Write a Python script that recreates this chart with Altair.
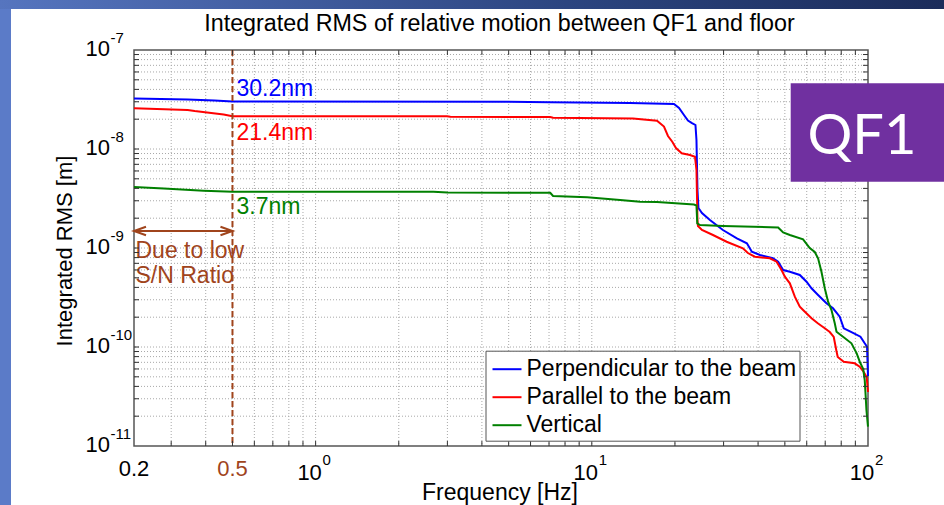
import altair as alt
import pandas as pd

# Integrated RMS of the QF1-to-floor relative motion (cumulated from 100 Hz downwards).
# Frequencies in Hz, integrated RMS in metres.
perp_freq = [0.22, 0.344, 0.43, 0.5, 4.86, 7.07, 13.76, 19.84, 20.69, 21.56, 22.29, 23.05,
             23.73, 23.93, 24.13, 24.33, 25.05, 26.77, 29.83, 33.52, 36.43, 37.97, 40.6, 45.24,
             47.28, 49.29, 52.12, 56.63, 59.9, 62.44, 65.95, 70.72, 74.7, 79.0, 81.7, 86.4,
             93.9, 97.3, 99.2, 100]
perp_rms = [3.24e-8, 3.16e-8, 3.09e-8, 3.02e-8, 3.00e-8, 2.97e-8, 2.92e-8, 2.85e-8, 2.595e-8,
            2.205e-8, 1.94e-8, 1.83e-8, 1.748e-8, 1.233e-8, 3.855e-9, 2.535e-9, 2.257e-9,
            1.917e-9, 1.52e-9, 1.253e-9, 1.115e-9, 9.18e-10, 8.50e-10, 7.87e-10, 7.27e-10,
            5.99e-10, 5.76e-10, 5.34e-10, 4.57e-10, 3.915e-10, 3.35e-10, 2.763e-10, 2.46e-10,
            2.023e-10, 1.545e-10, 1.427e-10, 1.27e-10, 1.09e-10, 1.007e-10, 5.10e-11]

para_freq = [0.22, 0.344, 0.365, 0.4645, 0.5, 2.99, 3.075, 7.07, 7.24, 14.1, 17.22, 18.25,
             18.87, 19.56, 20.17, 21.16, 22.67, 23.63, 23.93, 24.13, 24.23, 25.05, 27.46, 30.77,
             35.24, 36.74, 38.94, 44.12, 46.66, 48.64, 50.0, 52.12, 54.33, 56.63, 58.2, 62.44,
             65.79, 69.74, 72.7, 75.16, 76.74, 77.7, 81.7, 89.5, 93.3, 96.5, 98.9, 100]
para_rms = [2.58e-8, 2.48e-8, 2.42e-8, 2.23e-8, 2.14e-8, 2.14e-8, 2.115e-8, 2.105e-8, 2.066e-8,
            2.033e-8, 1.932e-8, 1.688e-8, 1.353e-8, 1.185e-8, 1.023e-8, 9.05e-9, 8.70e-9,
            8.36e-9, 6.135e-9, 1.917e-9, 1.668e-9, 1.52e-9, 1.353e-9, 1.157e-9, 9.93e-10,
            8.90e-10, 8.17e-10, 7.87e-10, 7.27e-10, 5.99e-10, 5.13e-10, 4.40e-10, 3.22e-10,
            2.554e-10, 2.364e-10, 1.95e-10, 1.735e-10, 1.545e-10, 1.417e-10, 1.262e-10,
            9.33e-11, 7.93e-11, 7.10e-11, 6.84e-11, 6.32e-11, 5.59e-11, 4.98e-11, 3.51e-11]

vert_freq = [0.22, 0.282, 0.393, 0.5, 2.67, 3.0, 7.07, 7.24, 9.62, 12.66, 14.95, 17.22, 23.43,
             23.93, 24.09, 24.64, 29.83, 47.28, 49.29, 52.12, 58.2, 61.53, 64.15, 65.95, 67.84,
             69.74, 71.69, 73.75, 75.8, 76.9, 81.2, 87.1, 91.0, 93.6, 96.1, 97.3, 98.1, 98.7, 100]
vert_rms = [4.13e-9, 3.99e-9, 3.79e-9, 3.70e-9, 3.70e-9, 3.64e-9, 3.61e-9, 3.35e-9, 3.25e-9,
            3.05e-9, 2.935e-9, 2.915e-9, 2.75e-9, 2.687e-9, 1.776e-9, 1.708e-9, 1.668e-9,
            1.611e-9, 1.434e-9, 1.353e-9, 1.224e-9, 1.0e-9, 9.11e-10, 7.87e-10, 5.76e-10,
            3.915e-10, 2.87e-10, 2.364e-10, 1.735e-10, 1.427e-10, 1.27e-10, 1.09e-10, 8.64e-11,
            6.97e-11, 5.99e-11, 4.64e-11, 3.15e-11, 2.31e-11, 1.57e-11]

series_names = ["Perpendicular to the beam", "Parallel to the beam", "Vertical"]
series_colors = ["#0000FF", "#FF0000", "#008000"]

# Total RMS above the 0.5 Hz cut-off (m)
cutoff_freq = 0.5
cutoff_rms = [3.02e-8, 2.14e-8, 3.7e-9]

# Band below the cut-off, limited by the S/N ratio
arrow_freq = [0.22, 0.5]
arrow_rms = 1.485e-9
arrow_note = "Due to low\nS/N Ratio"

# Tick labels
x_dec_pos = [0.22, 0.5]
x_dec_text = ["0.2", "0.5"]
x_pow_pos = [1, 10, 100]
x_pow_exp = ["0", "1", "2"]
y_pow_pos = [1e-11, 1e-10, 1e-9, 1e-8, 1e-7]
y_pow_exp = ["-11", "-10", "-9", "-8", "-7"]

title_text = "Integrated RMS of relative motion between QF1 and floor"
x_title = "Frequency [Hz]"
y_title = "Integrated RMS [m]"

W, H = 734, 396
FONT = "Liberation Sans"
BROWN = "#A0441C"
INK = "#333333"

x_scale = alt.Scale(type="log", domain=[0.22, 100], nice=False)
y_scale = alt.Scale(type="log", domain=[1e-11, 1e-7], nice=False)

# log-spaced grid/tick positions (1..9 per decade), inside the box
x_grid = [m * 10.0 ** e for e in (-1, 0, 1) for m in range(1, 10) if m * 10.0 ** e > 0.22]
y_grid = [m * 10.0 ** e for e in range(-11, -7) for m in range(1, 10)][1:]

rows = []
for name, freqs, vals in zip(series_names, (perp_freq, para_freq, vert_freq),
                             (perp_rms, para_rms, vert_rms)):
    for i, (f, v) in enumerate(zip(freqs, vals)):
        rows.append({"series": name, "freq": f, "rms": v, "step": i})
curves = pd.DataFrame(rows)


def xe(field="freq"):
    return alt.X(f"{field}:Q", scale=x_scale, axis=None)


def ye(field="rms"):
    return alt.Y(f"{field}:Q", scale=y_scale, axis=None)


one = pd.DataFrame({"k": [0]})

# slide frame around the figure
left_strip = alt.Chart(one).mark_rect(color="#5B7BC8").encode(
    x=alt.value(-134), x2=alt.value(-123), y=alt.value(-50), y2=alt.value(H + 59))
top_strip = alt.Chart(one).mark_rect(
    color=alt.LinearGradient(gradient="linear",
                             stops=[alt.GradientStop(color="#5675BF", offset=0),
                                    alt.GradientStop(color="#2C4580", offset=0.6),
                                    alt.GradientStop(color="#1B2C5A", offset=1)],
                             x1=0, x2=1, y1=0, y2=0)).encode(
    x=alt.value(-134), x2=alt.value(W + 76), y=alt.value(-50), y2=alt.value(-41))

# dotted grid
x_gridlines = alt.Chart(pd.DataFrame({"freq": x_grid})).mark_rule(
    color="#A8A8A8", strokeWidth=1, strokeDash=[1, 2]).encode(x=xe())
y_gridlines = alt.Chart(pd.DataFrame({"rms": y_grid})).mark_rule(
    color="#A8A8A8", strokeWidth=1, strokeDash=[1, 2]).encode(y=ye())

lines = alt.Chart(curves).mark_line(strokeWidth=2).encode(
    x=xe(),
    y=ye(),
    color=alt.Color("series:N", scale=alt.Scale(domain=series_names, range=series_colors),
                    legend=alt.Legend(title=None, orient="none", legendX=351.5, legendY=300.7,
                                      padding=3, symbolOffset=3, fillColor="white",
                                      strokeColor="#555555", labelFont=FONT, labelFontSize=23,
                                      labelColor="black", labelLimit=600, labelOffset=4,
                                      symbolType="stroke", symbolStrokeWidth=2, symbolSize=841,
                                      rowPadding=-1.5)),
    order="step:Q",
)

cut_rule = alt.Chart(pd.DataFrame({"freq": [cutoff_freq]})).mark_rule(
    color=BROWN, strokeWidth=2, strokeDash=[6, 3]).encode(x=xe())

arrow_df = pd.DataFrame({"freq": [arrow_freq[0]], "freq2": [arrow_freq[1]], "rms": [arrow_rms]})
arrow_line = alt.Chart(arrow_df).mark_rule(color=BROWN, strokeWidth=2).encode(
    x=xe(), x2="freq2:Q", y=ye())
head_left = alt.Chart(pd.DataFrame({"freq": [arrow_freq[0]], "rms": [arrow_rms]})).mark_point(
    shape="M2,-0.7L0,0L2,0.7", filled=False, size=144, strokeWidth=2, color=BROWN,
    opacity=1).encode(x=xe(), y=ye())
head_right = alt.Chart(pd.DataFrame({"freq": [arrow_freq[1]], "rms": [arrow_rms]})).mark_point(
    shape="M-2,-0.7L0,0L-2,0.7", filled=False, size=144, strokeWidth=2, color=BROWN,
    opacity=1).encode(x=xe(), y=ye())
arrow_text = alt.Chart(pd.DataFrame({"freq": [arrow_freq[0]], "rms": [arrow_rms],
                                     "t": [arrow_note]})).mark_text(
    align="left", baseline="alphabetic", dx=1.5, dy=27, lineBreak="\n", lineHeight=25,
    font=FONT, fontSize=23, color=BROWN).encode(x=xe(), y=ye(), text="t:N")

notes = []
for name, col, val, dy in zip(series_names, series_colors, cutoff_rms, [-5.5, 23.7, 21.8]):
    df = pd.DataFrame({"freq": [cutoff_freq], "rms": [val], "t": [f"{val * 1e9:.1f}nm"]})
    notes.append(alt.Chart(df).mark_text(align="left", baseline="alphabetic", dx=4, dy=dy,
                                         font=FONT, fontSize=23, color=col)
                 .encode(x=xe(), y=ye(), text="t:N"))

# inward tick marks on all four sides of the box
xt = pd.DataFrame({"freq": x_grid})
yt = pd.DataFrame({"rms": y_grid})
ticks = [
    alt.Chart(xt).mark_rule(color=INK, strokeWidth=1).encode(x=xe(), y=alt.value(H), y2=alt.value(H - 5)),
    alt.Chart(xt).mark_rule(color=INK, strokeWidth=1).encode(x=xe(), y=alt.value(0), y2=alt.value(5)),
    alt.Chart(yt).mark_rule(color=INK, strokeWidth=1).encode(y=ye(), x=alt.value(0), x2=alt.value(5)),
    alt.Chart(yt).mark_rule(color=INK, strokeWidth=1).encode(y=ye(), x=alt.value(W), x2=alt.value(W - 5)),
]

# tick labels
xdec = pd.DataFrame({"freq": x_dec_pos, "t": x_dec_text, "c": ["black", BROWN]})
x_dec_labels = alt.Chart(xdec).mark_text(align="center", baseline="alphabetic", font=FONT,
                                         fontSize=22).encode(
    x=xe(), y=alt.value(H + 30), text="t:N", color=alt.Color("c:N", scale=None))
xpow = pd.DataFrame({"freq": x_pow_pos, "e": x_pow_exp, "b": ["10"] * 3})
x_pow_base = alt.Chart(xpow).mark_text(align="center", baseline="alphabetic", dx=-6, font=FONT,
                                       fontSize=22, color="black").encode(
    x=xe(), y=alt.value(H + 33.5), text="b:N")
x_pow_exp_t = alt.Chart(xpow).mark_text(align="left", baseline="alphabetic", dx=7, font=FONT,
                                        fontSize=15, color="black").encode(
    x=xe(), y=alt.value(H + 18.5), text="e:N")
ypow = pd.DataFrame({"rms": y_pow_pos, "e": y_pow_exp, "b": ["10"] * 5})
y_pow_base = alt.Chart(ypow).mark_text(align="right", baseline="alphabetic", dy=5.5, font=FONT,
                                       fontSize=22, color="black").encode(
    x=alt.value(-24), y=ye(), text="b:N")
y_pow_exp_t = alt.Chart(ypow).mark_text(align="left", baseline="alphabetic", dy=-6.6, font=FONT,
                                        fontSize=15, color="black").encode(
    x=alt.value(-23.5), y=ye(), text="e:N")

# titles
titles = pd.DataFrame({"t": [title_text], "xt": [x_title], "yt": [y_title]})
main_title = alt.Chart(titles).mark_text(align="center", baseline="alphabetic", font=FONT,
                                         fontSize=23.3, color="black").encode(
    x=alt.value(W / 2 - 1.5), y=alt.value(-19.5), text="t:N")
x_title_t = alt.Chart(titles).mark_text(align="center", baseline="alphabetic", font=FONT,
                                        fontSize=23, color="black").encode(
    x=alt.value(W / 2 - 1), y=alt.value(H + 54), text="xt:N")
y_title_t = alt.Chart(titles).mark_text(align="center", baseline="alphabetic", angle=270,
                                        font=FONT, fontSize=22, color="black").encode(
    x=alt.value(-62), y=alt.value(H / 2 + 3), text="yt:N")

# slide tag
tag_box = alt.Chart(one).mark_rect(color="#7030A0").encode(
    x=alt.value(656.7), x2=alt.value(W + 80), y=alt.value(33.3), y2=alt.value(131.7))
tag_text = alt.Chart(pd.DataFrame({"t": ["QF1"]})).mark_text(
    align="center", baseline="alphabetic", font="Lato", fontSize=56,
    color="white").encode(x=alt.value(728), y=alt.value(104), text="t:N")

chart = alt.layer(
    left_strip, top_strip, x_gridlines, y_gridlines, lines, cut_rule, arrow_line, head_left,
    head_right, arrow_text, *notes, *ticks, x_dec_labels, x_pow_base, x_pow_exp_t, y_pow_base,
    y_pow_exp_t, main_title, x_title_t, y_title_t, tag_box, tag_text,
).properties(
    width=W, height=H,
    background="white",
    padding={"left": 134, "top": 50, "right": 76, "bottom": 59},
    autosize=alt.AutoSizeParams(type="none"),
).configure_view(stroke="#555555", strokeWidth=1.5, fill="white")

chart.save("out.html", embed_options={"renderer": "svg", "actions": False})
